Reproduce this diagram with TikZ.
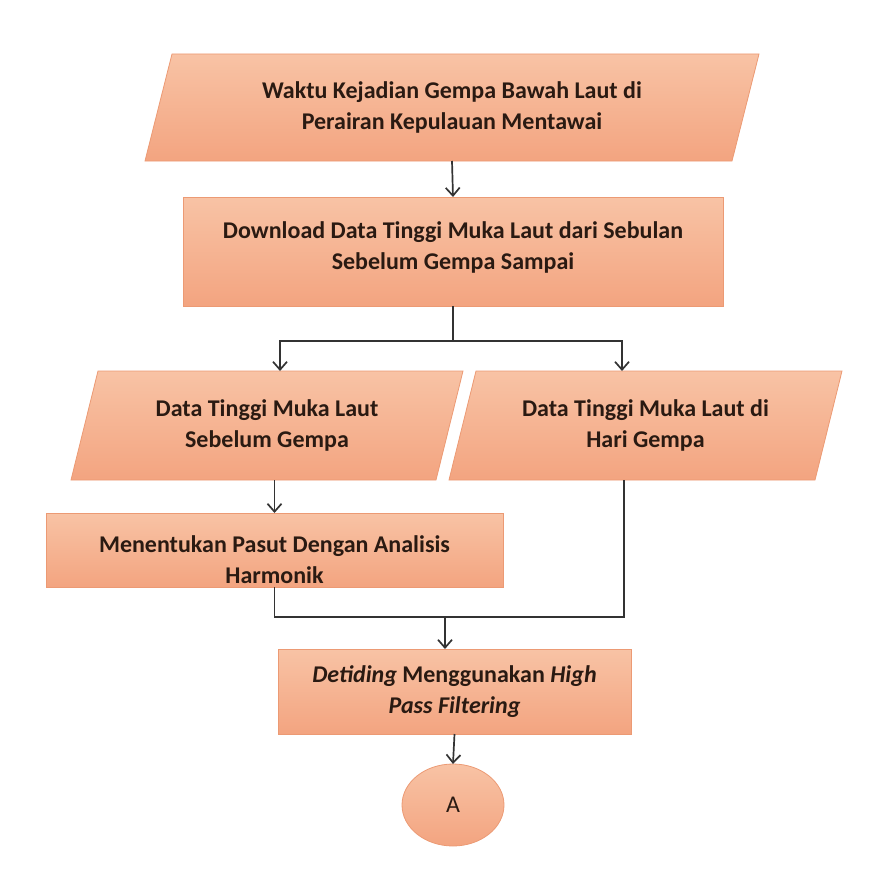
\documentclass[tikz,border=0pt]{standalone}
\usepackage{fontspec}
\setmainfont{Carlito}
\usetikzlibrary{arrows.meta, shapes.geometric, positioning, calc, backgrounds}
\definecolor{pasTop}{HTML}{F8C3A5}
\definecolor{pasBot}{HTML}{F3A480}
\definecolor{pasLine}{HTML}{EC9A74}
\definecolor{darkline}{HTML}{333333}
\definecolor{darktext}{HTML}{2A1A12}

\tikzset{
  teks/.style={font=\fontsize{24}{31}\selectfont\bfseries, text=darktext, align=center, inner sep=0pt, outer sep=0pt},
  bidang/.style={draw=pasLine, line width=0.8pt, top color=pasTop, bottom color=pasBot},
  kotak/.style={rectangle, bidang, teks},
  jajar/.style={rectangle, teks},
  alur/.style={draw=darkline, line width=1.7pt, -{Straight Barb[length=8pt,width=14pt]}},
  garis/.style={draw=darkline, line width=1.7pt},
}
% jajaran genjang di belakang node: #1 nama node, #2 kemiringan
\newcommand{\jajarGenjang}[2]{%
  \path[bidang] (#1.south west) -- ($(#1.north west)+(#2,0)$) -- (#1.north east)
    -- ($(#1.south east)-(#2,0)$) -- cycle;}

\begin{document}
\begin{tikzpicture}[x=1pt, y=-1pt]
          \useasboundingbox (0,0) rectangle (874,883);

          % Masukan awal
          \node[jajar, minimum width=614, minimum height=107] (waktu) at (452,107.5)
            {Waktu Kejadian Gempa Bawah Laut di\\Perairan Kepulauan Mentawai};
          \node[kotak, minimum width=540, minimum height=109, text depth=11pt] (unduh) at (453,251.5)
            {Download Data Tinggi Muka Laut dari Sebulan\\Sebelum Gempa Sampai};

          % Dua cabang data
          \node[jajar, minimum width=392, minimum height=109] (sebelum) at (267,425.5)
            {Data Tinggi Muka Laut\\Sebelum Gempa};
          \node[jajar, minimum width=393, minimum height=109] (hari) at (645.5,425.5)
            {Data Tinggi Muka Laut di\\Hari Gempa};
          \node[kotak, minimum width=457, minimum height=74, text height=67pt] (pasut) at (274.5,550)
            {Menentukan Pasut Dengan Analisis\\Harmonik};

          % Detiding dan konektor
          \node[kotak, minimum width=353, minimum height=85] (detide) at (454.5,691.5)
            {\textit{Detiding} Menggunakan \textit{High}\\\textit{Pass Filtering}};
          \node[kotak, ellipse, minimum width=102, minimum height=82,
            font=\fontsize{24}{28}\selectfont] (konektor) at (453,805) {A};

          % Bentuk jajaran genjang
          \begin{scope}[on background layer]
            \jajarGenjang{waktu}{27}
            \jajarGenjang{sebelum}{27}
            \jajarGenjang{hari}{27}
          \end{scope}

          % Titik percabangan
          \coordinate (bagi) at (453,341);
          \coordinate (kiri) at (280,341);
          \coordinate (kanan) at (622,341);
          \coordinate (gabung) at (445,617);
          \coordinate (gabungR) at (624,617);

          % Alur
          \draw[alur] (waktu.south) -- (unduh.north);
          \draw[garis] (unduh.south) -- (bagi);
          \draw[alur] (bagi) -- (kiri) -- (kiri |- sebelum.north);
          \draw[alur] (bagi) -- (kanan) -- (kanan |- hari.north);
          \draw[alur] (pasut.north |- sebelum.south) -- (pasut.north);
          \draw[garis] (hari.south -| gabungR) -- (gabungR) -- (gabungR -| pasut.south) -- (pasut.south);
          \draw[alur] (gabung) -- (gabung |- detide.north);
          \draw[alur] (detide.south) -- (konektor.north);
        \end{tikzpicture}
\end{document}
